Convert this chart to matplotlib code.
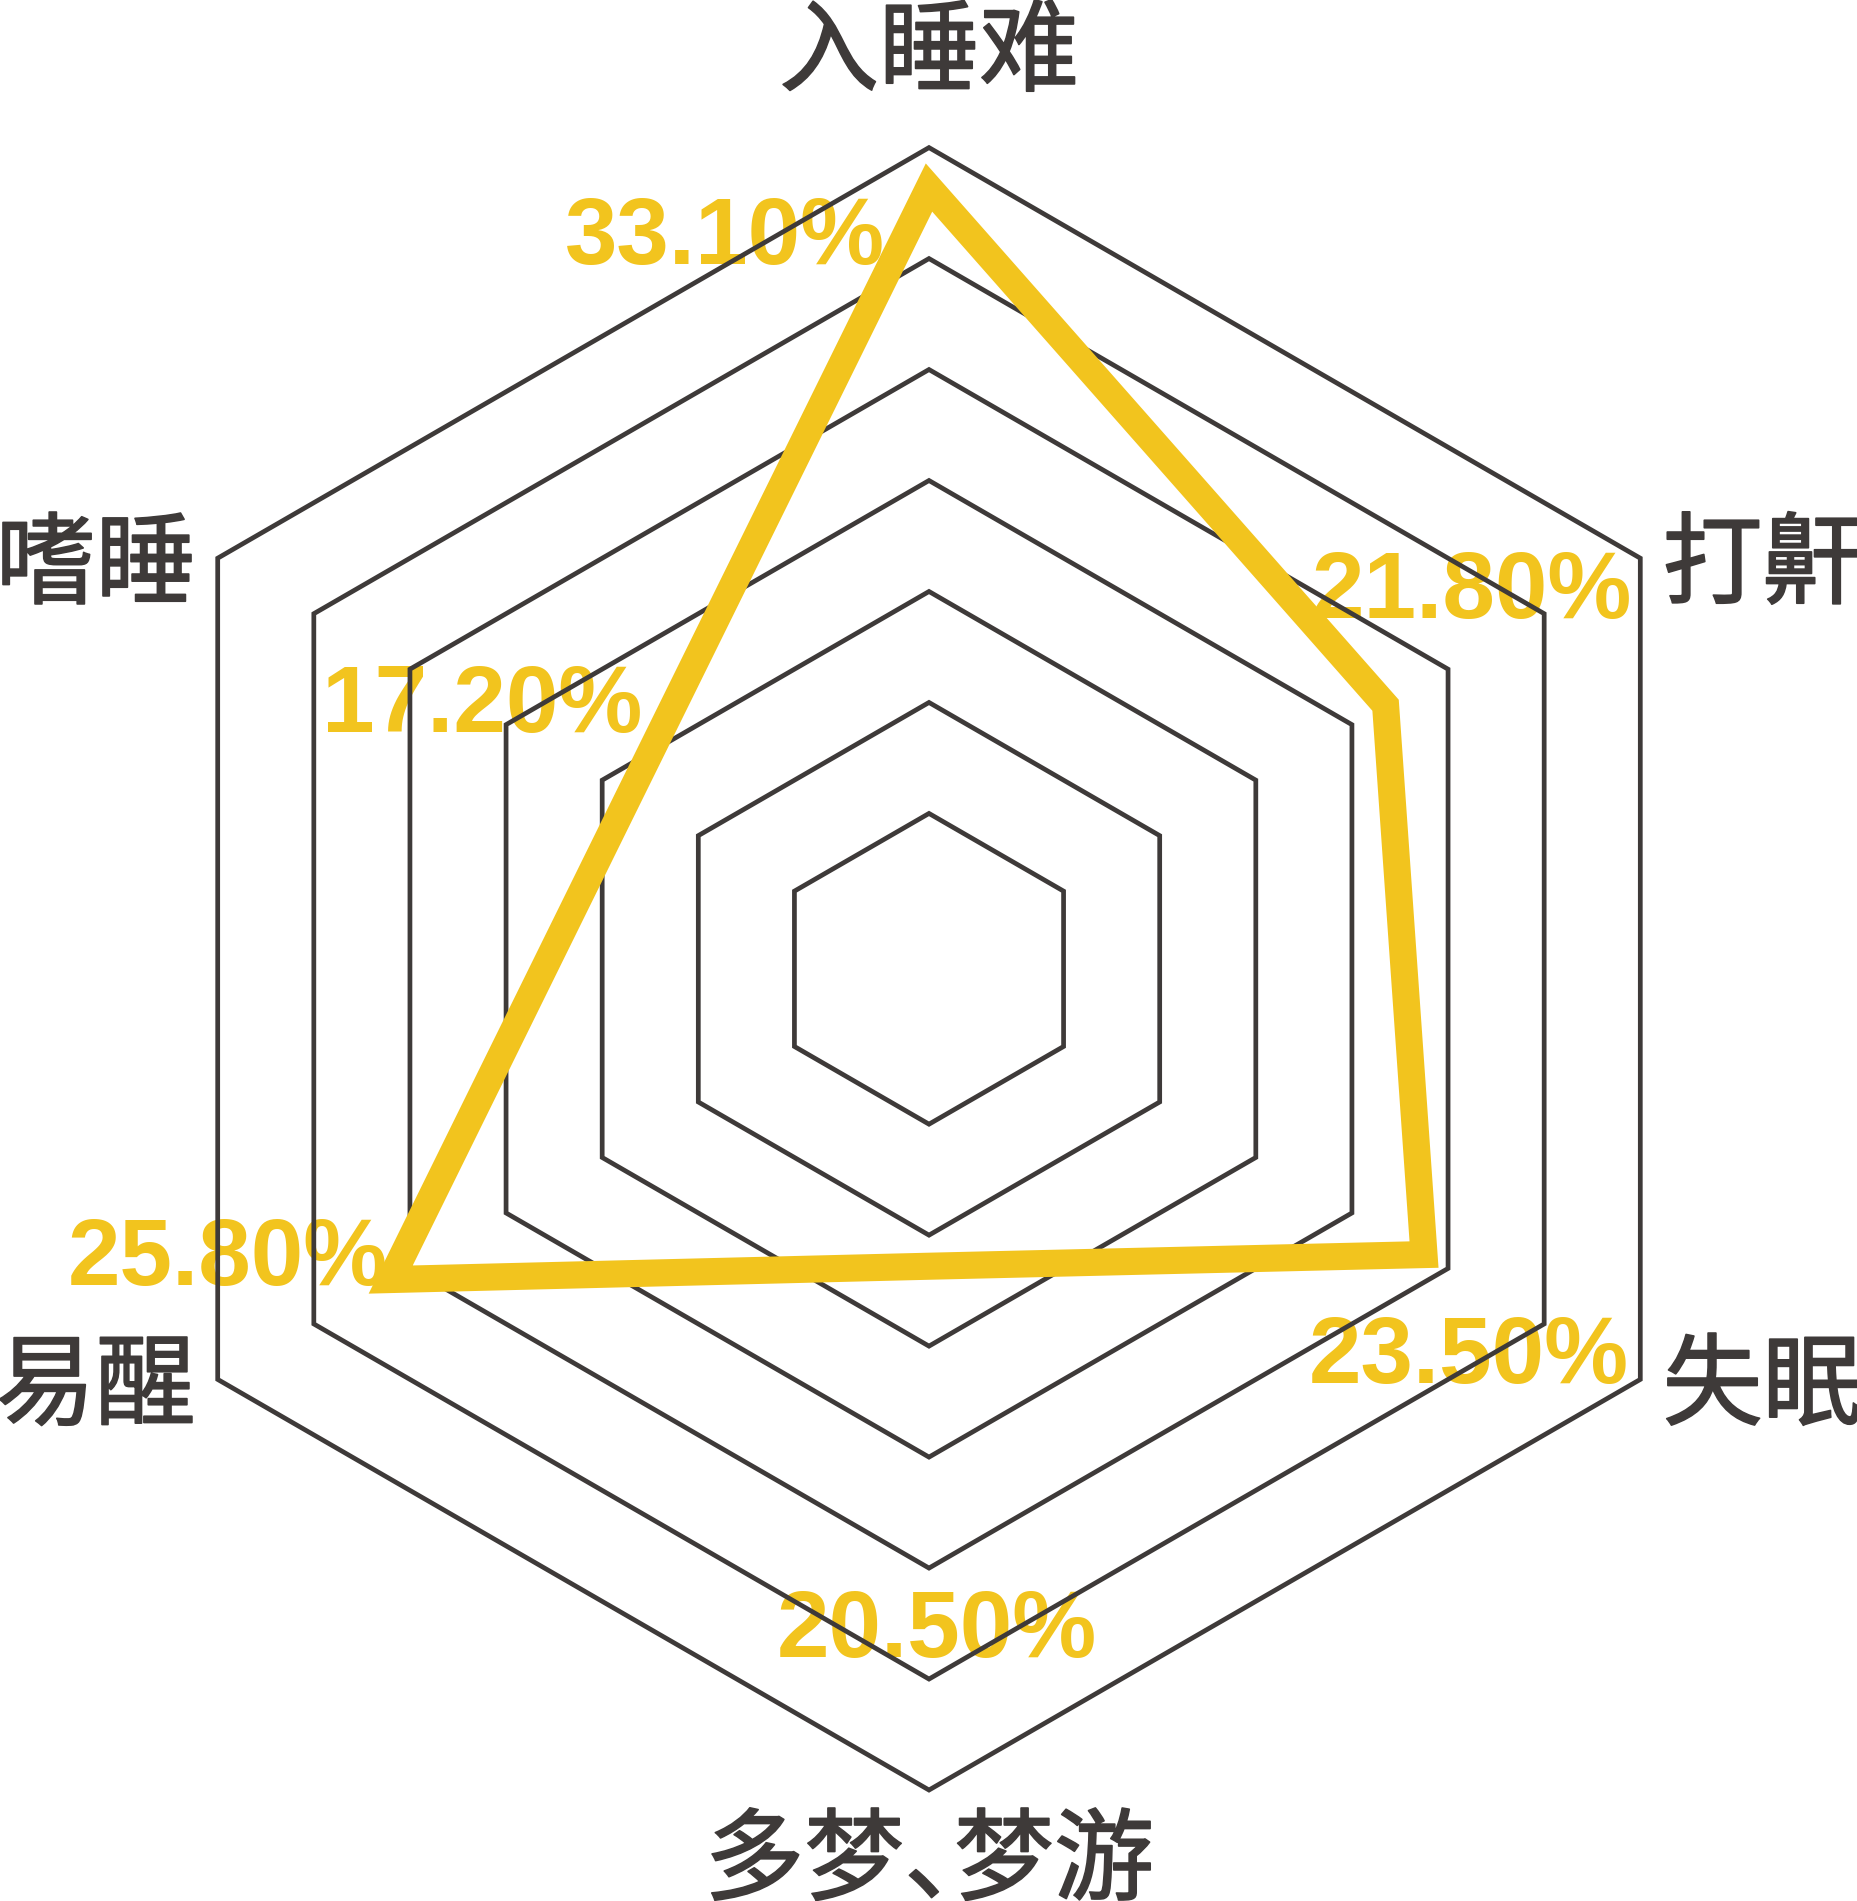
import numpy as np
import matplotlib.pyplot as plt
import matplotlib.patheffects as pe
from matplotlib.patches import Polygon

plt.rcParams['font.family'] = ['Noto Sans CJK SC', 'DejaVu Sans']

# axes, clockwise from the top
categories = ['入睡难', '打鼾', '失眠', '多梦、梦游', '易醒', '嗜睡']
percent_labels = ['33.10%', '21.80%', '23.50%', '20.50%', '25.80%', '17.20%']
# where the yellow line crosses each axis, counted in grid rings
levels = [6.64, 4.35, 4.75, 2.28, 5.20, 2.72]
rings = [1, 2, 3, 4, 5, 6, 7]

dark = '#3e3a39'
yellow = '#f2c41e'
offset = 0.4  # the inner ring sits 1.4 ring spacings from the centre
em = 0.9      # one 72pt CJK character, in data units

theta = np.deg2rad(90 - 60 * np.arange(len(categories)))

fig = plt.figure(figsize=(18.58, 19.01), dpi=100)
ax = fig.add_axes([0, 0, 1, 1])
ax.set_xlim(-8.37, 8.37)
ax.set_ylim(-8.40, 8.73)
ax.axis('off')

# hexagon grid
for k in rings:
    r = k + offset
    pts = np.column_stack([r * np.cos(theta), r * np.sin(theta)])
    ax.add_patch(Polygon(pts, closed=True, fill=False, ec=dark, lw=3.4,
                         joinstyle='miter', zorder=2))

# data line
r = np.array(levels) + offset
pts = np.column_stack([r * np.cos(theta), r * np.sin(theta)])
ax.add_patch(Polygon(pts, closed=True, fill=False, ec=yellow, lw=19.5,
                     joinstyle='miter', zorder=3))

# category names round the outer ring (regular weight, slightly thickened)
outer = rings[-1] + offset
lab = dict(fontsize=72, color=dark, va='center',
           path_effects=[pe.withStroke(linewidth=1.2, foreground=dark)])
for name, t in zip(categories, theta):
    x, y = outer * np.cos(t), outer * np.sin(t)
    if abs(np.cos(t)) < 0.01:
        if y > 0:
            ax.text(x, y + 0.84, name, ha='center', **lab)
        else:
            # the ideographic comma only takes half a cell in the original
            first, second = name.split('、')
            x0 = x - 2.25 * em
            ax.text(x0, y - 0.66, first + '、', ha='left', **lab)
            ax.text(x0 + 2.5 * em, y - 0.66, second, ha='left', **lab)
    elif x > 0:
        ax.text(x + 0.2, y - 0.08, name, ha='left', **lab)
    else:
        ax.text(x - 0.2, y - 0.08, name, ha='right', **lab)

# percent labels (x centre, baseline)
label_pos = [(-1.84, 6.35), (4.89, 3.16), (4.86, -3.73),
             (0.07, -6.20), (-6.32, -2.85), (-4.03, 2.13)]
for txt, (x, y) in zip(percent_labels, label_pos):
    ax.text(x, y, txt, ha='center', va='baseline', fontsize=68,
            fontfamily='Liberation Sans', fontweight='bold', color=yellow,
            zorder=1)

fig.savefig('out.png', dpi=100)
